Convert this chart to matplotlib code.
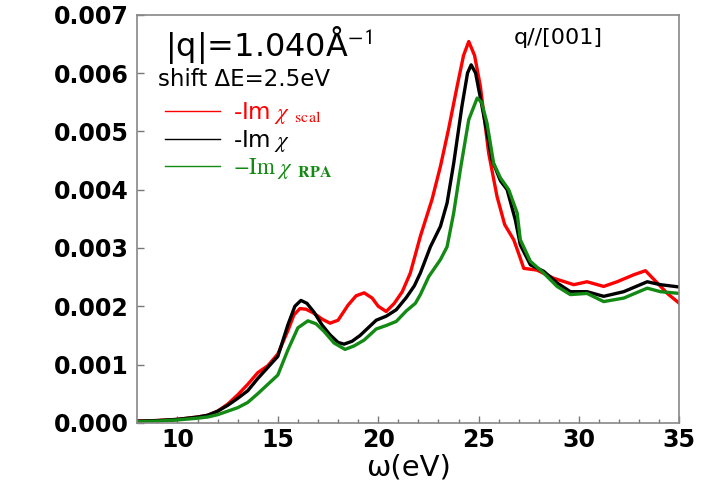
import matplotlib
matplotlib.use('Agg')
from matplotlib import pyplot as plt
from matplotlib.ticker import MultipleLocator, FormatStrFormatter

plt.rcParams['font.family'] = ['DejaVu Sans']
plt.rcParams['mathtext.fontset'] = 'stix'

# -Im chi_scal (red)
w_scal = [8, 9, 10, 11, 11.5, 12, 12.5, 13, 13.5, 14, 14.5, 15, 15.5, 15.8, 16.1, 16.4,
          16.8, 17.2, 17.6, 18.0, 18.5, 18.9, 19.3, 19.7, 20.0, 20.4, 20.8, 21.2, 21.6,
          22.1, 22.68, 23.1, 23.5, 23.93, 24.25, 24.51, 24.8, 25.09, 25.5, 25.92, 26.3,
          26.75, 27.0, 27.25, 27.91, 28.74, 29.74, 30.4, 31.23, 31.9, 32.73, 33.31, 33.9,
          34.4, 35]
im_scal = [0.00003, 0.00004, 0.00006, 0.0001, 0.00013, 0.0002, 0.00032, 0.00048, 0.00066,
           0.00086, 0.00098, 0.00118, 0.00158, 0.00185, 0.00196, 0.00195, 0.00188, 0.00178,
           0.00171, 0.00176, 0.00202, 0.00218, 0.00223, 0.00214, 0.002, 0.00191, 0.00205,
           0.00225, 0.00257, 0.0032, 0.00383, 0.0044, 0.00503, 0.00577, 0.0063, 0.00654,
           0.0063, 0.00577, 0.00463, 0.00388, 0.0034, 0.00314, 0.0029, 0.00265, 0.00262,
           0.00248, 0.00237, 0.00242, 0.00234, 0.00242, 0.00254, 0.00261, 0.0024, 0.00222,
           0.00205]

# -Im chi (black)
w_chi = [8, 9, 10, 11, 11.5, 12, 12.5, 13, 13.5, 14, 14.5, 15, 15.5, 15.85, 16.15, 16.45,
         16.8, 17.2, 17.6, 18.0, 18.3, 18.7, 19.1, 19.5, 19.9, 20.4, 20.9, 21.4, 21.8,
         22.1, 22.6, 23.1, 23.43, 23.76, 24.17, 24.45, 24.63, 24.85, 25.17, 25.67, 26.09,
         26.42, 26.83, 27.08, 27.58, 28.24, 28.91, 29.57, 30.4, 31.23, 32.23, 33.4, 34.06,
         35]
im_chi = [0.00003, 0.00004, 0.00006, 0.0001, 0.00013, 0.0002, 0.0003, 0.00042, 0.00055,
          0.00076, 0.00095, 0.00114, 0.00168, 0.002, 0.0021, 0.00205, 0.0019, 0.00168,
          0.00151, 0.00138, 0.00135, 0.0014, 0.0015, 0.00163, 0.00176, 0.00183, 0.00194,
          0.00215, 0.00235, 0.00257, 0.00302, 0.00337, 0.00377, 0.00445, 0.00543, 0.006,
          0.00614, 0.006, 0.00543, 0.00451, 0.00415, 0.004, 0.00348, 0.00305, 0.00271,
          0.0026, 0.0024, 0.00225, 0.00225, 0.00217, 0.00225, 0.00242, 0.00237, 0.00233]

# -Im chi_RPA (green)
w_rpa = [8, 9, 10, 11, 11.5, 12, 12.5, 13, 13.5, 14, 14.5, 15, 15.5, 16.0, 16.5, 16.9,
         17.3, 17.8, 18.35, 18.8, 19.3, 19.9, 20.4, 20.9, 21.4, 21.85, 22.1, 22.52, 23.1,
         23.43, 23.76, 24.09, 24.51, 24.93, 25.15, 25.42, 25.75, 26.09, 26.5, 26.92, 27.08,
         27.58, 28.24, 28.91, 29.57, 30.4, 31.23, 32.23, 33.4, 34.06, 35]
im_rpa = [0.00002, 0.00003, 0.00005, 0.00008, 0.0001, 0.00014, 0.0002, 0.00026, 0.00035,
          0.0005, 0.00066, 0.00082, 0.00125, 0.00163, 0.00175, 0.0017, 0.00157, 0.00137,
          0.00126, 0.00132, 0.00142, 0.00161, 0.00167, 0.00174, 0.00192, 0.00205, 0.0022,
          0.00251, 0.0028, 0.00302, 0.0036, 0.00434, 0.0052, 0.00557, 0.0055, 0.00514,
          0.00445, 0.0042, 0.004, 0.0036, 0.00314, 0.00277, 0.00257, 0.00234, 0.0022,
          0.00222, 0.00208, 0.00214, 0.00231, 0.00225, 0.00222]

fig = plt.figure(figsize=(7.04, 4.9), dpi=100)
ax = fig.add_axes([0.195, 0.137, 0.77, 0.833])

l1, = ax.plot(w_scal, im_scal, c='#ff0000', lw=2.4, label=r'-Im $\chi$ $_{\mathrm{scal}}$')
l2, = ax.plot(w_chi, im_chi, c='black', lw=2.4, label=r'-Im $\chi$')
l3, = ax.plot(w_rpa, im_rpa, c='#138a13', lw=2.4, label=r'$-\mathrm{Im}\ \chi$ $_{\mathbf{RPA}}$')

ax.set_xlim(8, 35)
ax.set_ylim(0, 0.007)
ax.xaxis.set_major_locator(MultipleLocator(5))
ax.xaxis.set_minor_locator(MultipleLocator(1))
ax.yaxis.set_major_locator(MultipleLocator(0.001))
ax.yaxis.set_major_formatter(FormatStrFormatter('%.3f'))
ax.tick_params(axis='both', which='major', direction='in', length=5, width=1,
               color='#777777', labelsize=17, pad=6)
ax.tick_params(axis='x', which='major', pad=4)
ax.tick_params(axis='both', which='minor', direction='in', length=3, width=1, color='#777777')
for lab in ax.get_xticklabels() + ax.get_yticklabels():
    lab.set_fontweight('bold')
for s in ax.spines.values():
    s.set_color('#888888')
    s.set_linewidth(1.2)

ax.set_xlabel(u'ω(eV)', fontsize=21, labelpad=1)

ax.text(0.052, 0.926, u'|q|=1.040Å$^{\\mathsf{-1}}$', transform=ax.transAxes, fontsize=23,
        va='center', ha='left')
ax.text(0.039, 0.841, u'shift ΔE=2.5eV', transform=ax.transAxes, fontsize=16.5,
        va='center', ha='left')
ax.text(0.694, 0.944, 'q//[001]', transform=ax.transAxes, fontsize=16,
        va='center', ha='left')

leg = ax.legend(handles=[l1, l2, l3], loc='upper left', bbox_to_anchor=(0.052, 0.79),
                frameon=False, fontsize=16.5, handlelength=2.4, handletextpad=0.55,
                labelspacing=0.08, borderpad=0, borderaxespad=0, labelcolor='linecolor')
for ln in leg.get_lines():
    ln.set_linewidth(1.0)

fig.savefig('out.png', dpi=100)
